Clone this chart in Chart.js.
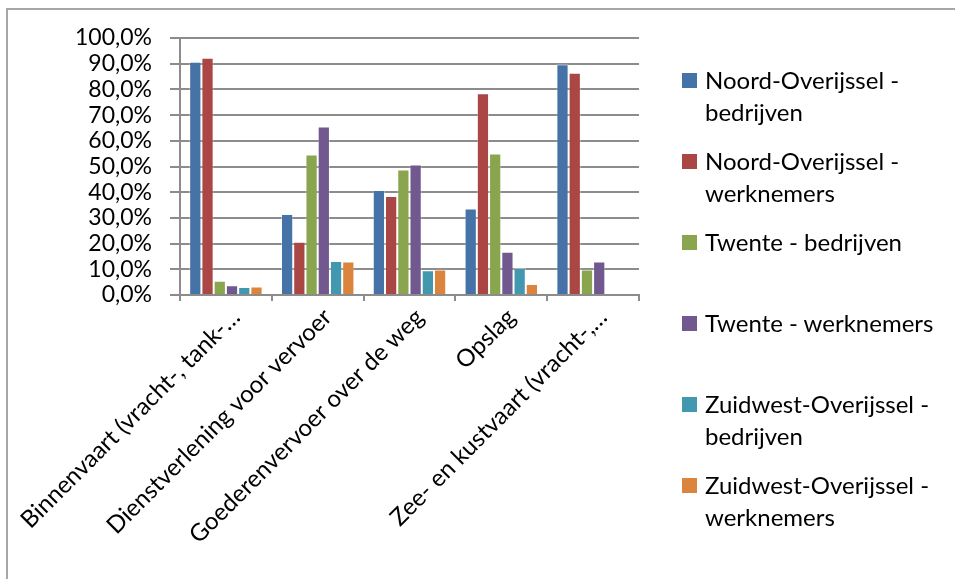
<!DOCTYPE html>
<html>
<head>
<meta charset="utf-8">
<script src="https://cdn.jsdelivr.net/npm/chart.js@4/dist/chart.umd.min.js"></script>
<style>
  html, body { margin: 0; padding: 0; background: #fff; overflow: hidden; }
  #wrap { position: relative; width: 955px; height: 579px; }
  #frame { position: absolute; left: 6px; top: 8px; width: 1000px; height: 600px; border: 2px solid #a6a6a6; box-sizing: border-box; }
  #chartBox { position: absolute; left: 0; top: 0; width: 955px; height: 579px; }
  #legend { position: absolute; left: 682px; top: 64px; width: 265px; font-family: Lato, sans-serif; font-size: 24px; color: #000; }
  .item { position: relative; height: 81px; }
  .item .box { position: absolute; left: 0; top: 9px; width: 15px; height: 15px; }
  .item .txt { position: absolute; left: 23px; top: 0; width: 242px; line-height: 32px; }
</style>
</head>
<body>
<div id="wrap">
  <div id="frame"></div>
  <div id="chartBox"><canvas id="chart"></canvas></div>
  <div id="legend"></div>
</div>
<script>
const categories = [
    "Binnenvaart (vracht-, tank-\u2026",
    "Dienstverlening voor vervoer",
    "Goederenvervoer over de weg",
    "Opslag",
    "Zee- en kustvaart (vracht-,\u2026"
];
const seriesNames = [
    "Noord-Overijssel - bedrijven",
    "Noord-Overijssel - werknemers",
    "Twente - bedrijven",
    "Twente - werknemers",
    "Zuidwest-Overijssel - bedrijven",
    "Zuidwest-Overijssel - werknemers"
];
const noordBedrijven = [90.8, 31.5, 40.9, 33.7, 89.8];
const noordWerknemers = [92.3, 20.7, 38.5, 78.5, 86.5];
const twenteBedrijven = [5.5, 54.7, 48.8, 55.1, 9.9];
const twenteWerknemers = [3.8, 65.6, 50.8, 16.8, 13.0];
const zuidwestBedrijven = [3.1, 13.2, 9.6, 10.5, null];
const zuidwestWerknemers = [3.3, 13.0, 9.9, 4.3, null];
const colors = ["#4572A7", "#AA4643", "#89A54E", "#71588F", "#4198AF", "#DB843D"];

const seriesValues = [noordBedrijven, noordWerknemers, twenteBedrijven, twenteWerknemers, zuidwestBedrijven, zuidwestWerknemers];

let datasets = seriesValues.map(function (vals, i) {
    return {
        label: seriesNames[i],
        data: vals,
        backgroundColor: colors[i],
        borderColor: "rgba(255,255,255,0.35)",
        borderWidth: 1,
        categoryPercentage: 0.8,
        barPercentage: 1.0
    };
});

let chart = new Chart(document.getElementById("chart"), {
    type: "bar",
    data: { labels: categories, datasets: datasets },
    options: {
        responsive: true,
        maintainAspectRatio: false,
        animation: false,
        layout: { padding: { top: 38, right: 316, left: 0, bottom: 0 } },
        plugins: { legend: { display: false }, tooltip: { enabled: false } },
        scales: {
            x: {
                offset: true,
                grid: { display: true, drawOnChartArea: false, offset: true, tickLength: 6, color: "#8c8c8c", lineWidth: 2 },
                border: { color: "#8c8c8c", width: 2 },
                ticks: {
                    color: "#000",
                    font: { family: "Lato, sans-serif", size: 24 },
                    minRotation: 45, maxRotation: 45,
                    autoSkip: false,
                    padding: 2,
                    labelOffset: 10
                },
                afterFit: function (scale) {
                    scale.height = 284;
                    // long rotated labels would otherwise push the plot to the right
                    scale.paddingLeft = 0;
                    scale.paddingRight = 0;
                }
            },
            y: {
                min: 0,
                max: 100,
                ticks: {
                    stepSize: 10,
                    autoSkip: false,
                    color: "#000",
                    font: { family: "Lato, sans-serif", size: 23 },
                    padding: 18,
                    callback: function (v) { return v.toFixed(1).replace(".", ",") + "%"; }
                },
                grid: { color: "#8c8c8c", lineWidth: 2, tickLength: 10 },
                border: { color: "#8c8c8c", width: 2 },
                afterFit: function (scale) { scale.width = 180; }
            }
        }
    }
});

let legend = document.getElementById("legend");
seriesNames.forEach(function (name, i) {
    let item = document.createElement("div");
    item.className = "item";
    let box = document.createElement("div");
    box.className = "box";
    box.style.background = colors[i];
    let txt = document.createElement("div");
    txt.className = "txt";
    txt.textContent = name;
    item.appendChild(box);
    item.appendChild(txt);
    legend.appendChild(item);
});
</script>
</body>
</html>
